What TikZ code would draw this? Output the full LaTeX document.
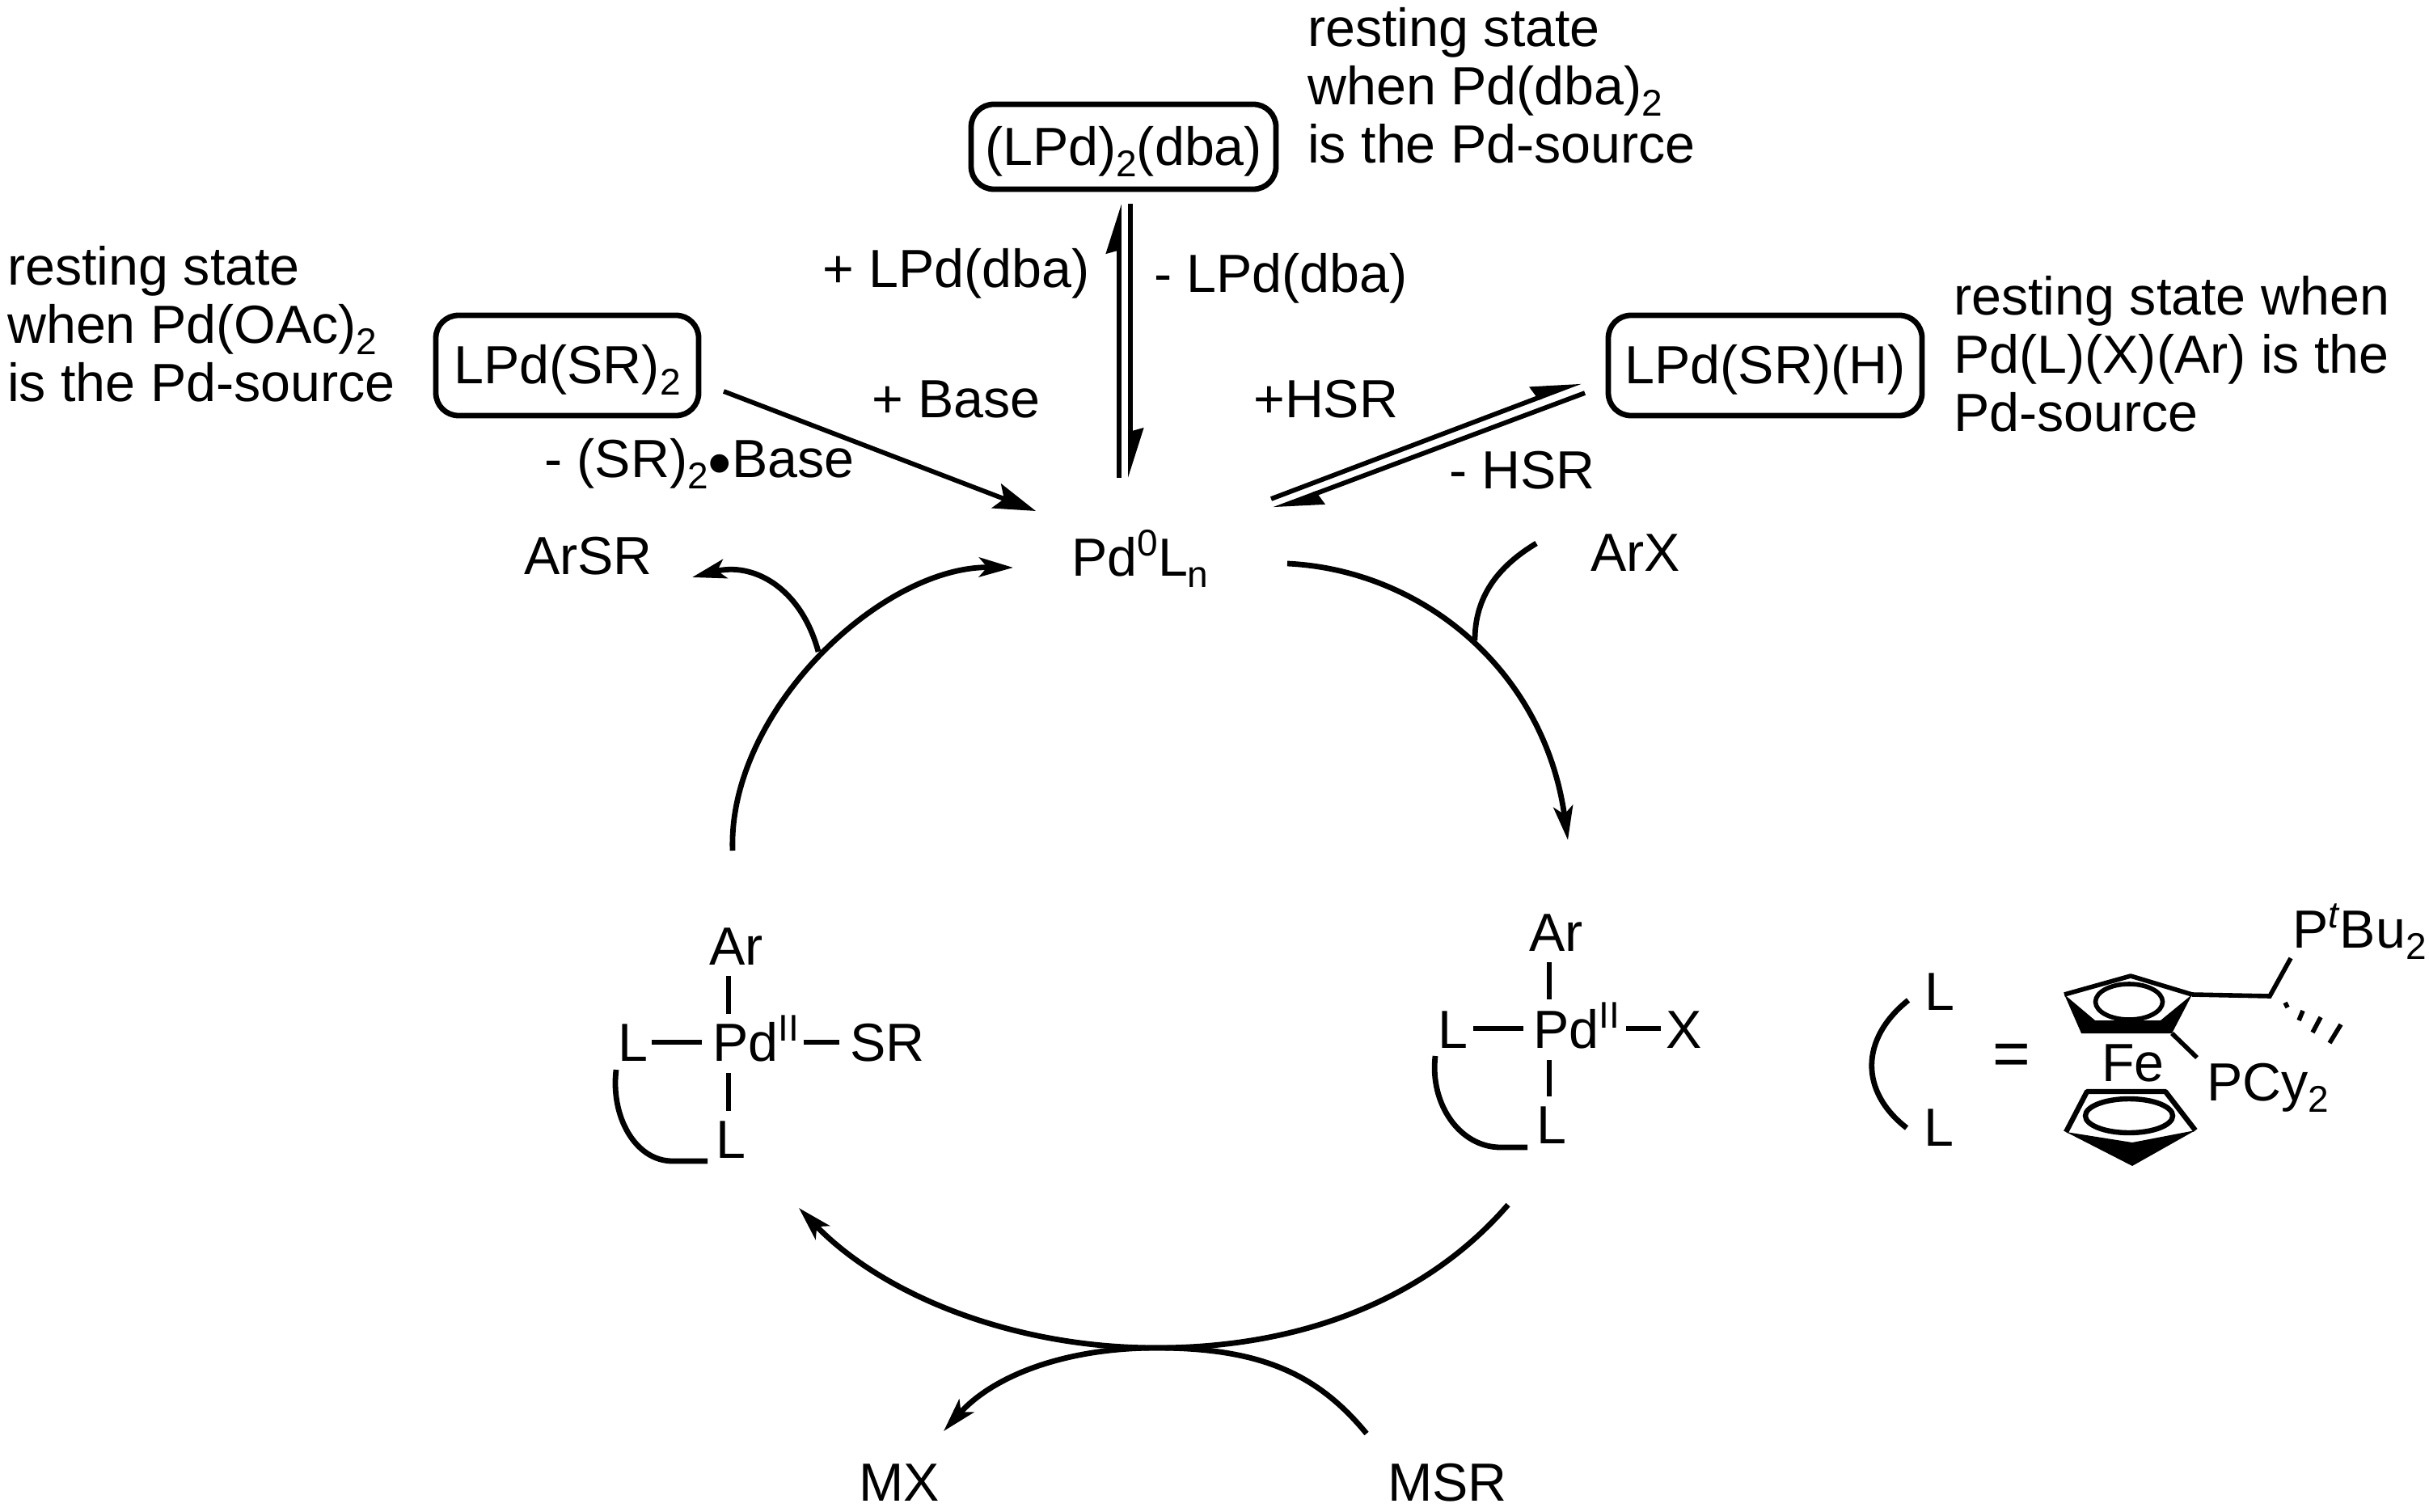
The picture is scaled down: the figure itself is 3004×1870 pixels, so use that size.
\documentclass[tikz,border=0pt]{standalone}
\usepackage{fontspec}
\setmainfont{Liberation Sans}
\usetikzlibrary{arrows.meta}
\newcommand{\subt}[1]{\raisebox{-3.5pt}{\fontsize{11.5}{11.5}\selectfont #1}}
\newcommand{\supt}[1]{\raisebox{6.2pt}{\fontsize{11.5}{11.5}\selectfont #1}}
\tikzset{
  label/.style={inner sep=0pt,anchor=base west,xshift=-0.4pt,font=\fontsize{16.6}{18}\selectfont},
  note/.style={label,align=left},
  state/.style={draw,line width=1.7pt,rounded corners=7pt,inner sep=0pt,text height=12pt,text depth=0.5pt,font=\fontsize{16.6}{18}\selectfont},
  bond/.style={line width=1.4pt},
  react/.style={line width=1.45pt},
  cyc/.style={line width=1.7pt,-{Stealth[length=10.5pt,width=6pt,inset=2.5pt]}},
  cycplain/.style={line width=1.7pt},
  upbarb/.style={react,-{Stealth[harpoon,length=13pt,width=8pt,inset=1pt]}},
}
\begin{document}
\begin{tikzpicture}[x=0.25pt,y=-0.25pt]
\path[use as bounding box] (0,0) rectangle (3004,1870);
% resting states
\node(dbaBox)  [state,minimum width=94.25pt,minimum height=26.25pt] at (1389.5,181.5) {(LPd)\subt{2}(dba)};
\node(srBox)   [state,minimum width=81.25pt,minimum height=31pt] at (701.5,452) {LPd(SR)\subt{2}};
\node(hBox)    [state,minimum width=97pt,minimum height=31pt] at (2183,452) {LPd(SR)(H)};
\node(dbaNote) [note] at (1618,202) {resting state\\when Pd(dba)\subt{2}\\is the Pd-source};
\node(srNote)  [note] at (10,497) {resting state\\when Pd(OAc)\subt{2}\\is the Pd-source};
\node(hNote)   [note] at (2417,534) {resting state when\\Pd(L)(X)(Ar) is the\\Pd-source};
% reagents
\node(plusDba)  [label] at (1018,356) {+ LPd(dba)};
\node(minusDba) [label] at (1428,362) {- LPd(dba)};
\node(plusBase) [label] at (1079,517) {+ Base};
\node(minusBase)[label] at (674,591) {- (SR)\subt{2}\raisebox{-2.5pt}{\fontsize{21}{18}\selectfont\textbullet}Base};
\node(plusHsr)  [label] at (1551,517) {+HSR};
\node(minusHsr) [label] at (1793,605) {- HSR};
\node(pd)   [label] at (1326,712) {Pd\supt{0}L\subt{n}};
\node(arsr) [label] at (649,710) {ArSR};
\node(arx)  [label] at (1968,706) {ArX};
\node(mx)   [label] at (1063,1856) {MX};
\node(msr)  [label] at (1717,1856) {MSR};
% left complex
\node(arA)  [label] at (878,1193) {Ar};
\node(pdA)  [label] at (882,1312) {Pd\supt{II}};
\node(lA)   [label] at (765,1312) {L};
\node(srA)  [label] at (1052,1312) {SR};
\node(lowA) [label] at (886,1432) {L};
\draw[bond] (901,1207) -- (901,1254);
\draw[bond] (901,1327) -- (901,1374);
\draw[bond] (806,1289) -- (868,1289);
\draw[bond] (994,1289) -- (1038,1289);
\draw[cycplain] (762,1323) .. controls (755,1380) and (785,1436) .. (832,1436) -- (875,1436);
% right complex
\node(arB)  [label] at (1892,1176) {Ar};
\node(pdB)  [label] at (1897,1296) {Pd\supt{II}};
\node(lB)   [label] at (1779,1296) {L};
\node(xB)   [label] at (2061,1296) {X};
\node(lowB) [label] at (1901,1414) {L};
\draw[bond] (1916,1190) -- (1916,1236);
\draw[bond] (1916,1311) -- (1916,1356);
\draw[bond] (1822,1272) -- (1884,1272);
\draw[bond] (2011,1272) -- (2054,1272);
\draw[cycplain] (1775,1306) .. controls (1768,1365) and (1805,1419) .. (1856,1419) -- (1889,1419);
% equilibria
\coordinate(dbaUpA) at (1384,591);
\coordinate(dbaUpB) at (1384,252);
\coordinate(dbaDnA) at (1398,252);
\coordinate(dbaDnB) at (1398,591);
\draw[upbarb] (dbaUpA) -- (dbaUpB);
\draw[upbarb] (dbaDnA) -- (dbaDnB);
\coordinate(hsrUpA) at (1572,617);
\coordinate(hsrUpB) at (1955,472);
\coordinate(hsrDnA) at (1960,486);
\coordinate(hsrDnB) at (1575,630);
\draw[upbarb] (hsrUpA) -- (hsrUpB);
\draw[upbarb] (hsrDnA) -- (hsrDnB);
\coordinate(baseA) at (895,484);
\coordinate(baseB) at (1281,632);
\draw[react,-{Stealth[length=13pt,width=8pt,inset=2.5pt]}] (baseA) -- (baseB);
% cycle
\coordinate(rightA) at (1592,697);
\coordinate(rightB) at (1939,1039);
\coordinate(rightM) at (1824,792);
\coordinate(leftA)  at (906,1052);
\coordinate(leftB)  at (1253,702);
\coordinate(leftM)  at (1012,806);
\coordinate(lowR)   at (1865,1490);
\coordinate(lowM)   at (1430,1667);
\coordinate(lowL)   at (988,1494);
\coordinate(arxEnd) at (1900,672);
\coordinate(srEnd)  at (856,714);
\coordinate(mxEnd)  at (1167,1770);
\coordinate(msrEnd) at (1690,1773);
\draw[cyc] (rightA) .. controls (1760,705) and (1910,830) .. (rightB);
\draw[cyc] (leftA) .. controls (900,880) and (1090,700) .. (leftB);
\draw[cycplain] (lowR) .. controls (1770,1600) and (1620,1667) .. (lowM);
\draw[cyc] (lowM) .. controls (1250,1667) and (1090,1600) .. (lowL);
\draw[cycplain] (arxEnd) .. controls (1845,705) and (1824,745) .. (rightM);
\draw[cyc] (leftM) .. controls (990,725) and (930,695) .. (srEnd);
\draw[cyc] (lowM) .. controls (1320,1667) and (1230,1700) .. (mxEnd);
\draw[cycplain] (lowM) .. controls (1560,1667) and (1630,1700) .. (msrEnd);
% ligand
\node(lUp)  [label] at (2381,1249) {L};
\node(lLow) [label] at (2380,1417) {L};
\node(eq)   [label,font=\fontsize{20}{20}\selectfont] at (2465,1330) {=};
\node(fe)   [label] at (2600,1337) {Fe};
\node(ptbu) [label] at (2836,1172) {P\supt{\textit{t}}Bu\subt{2}};
\node(pcy)  [label] at (2730,1361) {PCy\subt{2}};
\draw[cycplain] (2360,1237) .. controls (2300,1285) and (2300,1350) .. (2358,1395);
\fill (2553,1230) -- (2591,1262) -- (2672,1262) -- (2711,1230) -- (2686,1278) -- (2574,1278) -- cycle;
\draw[bond,line join=round] (2553,1230) -- (2635,1207) -- (2711,1230);
\draw[line width=1.4pt] (2633,1239) ellipse [x radius=41.5,y radius=22];
\draw[bond] (2711,1230) -- (2807,1232) -- (2833,1185);
\draw[bond] (2686,1278) -- (2717,1308);
\draw[bond] (2826,1240) -- (2829,1246);
\draw[bond] (2848,1250) -- (2843,1262);
\draw[bond] (2870,1258) -- (2860,1277);
\draw[bond] (2895,1267) -- (2881,1290);
\fill (2555,1400) -- (2637,1413) -- (2715,1398) -- (2637,1442) -- cycle;
\draw[line width=1.6pt,line join=round] (2555,1400) -- (2581,1350) -- (2678,1350) -- (2715,1398);
\draw[line width=1.6pt] (2633,1380) ellipse [x radius=54,y radius=21];
\end{tikzpicture}
\end{document}
